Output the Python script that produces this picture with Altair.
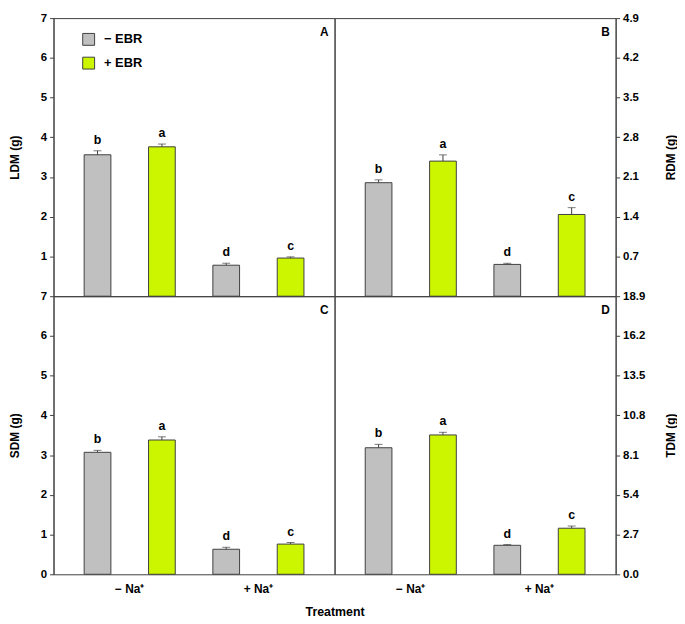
import altair as alt
import pandas as pd

# ---- data ----
treatments = ["− Na⁺", "+ Na⁺"]
ebr_levels = ["− EBR", "+ EBR"]
# order: (−Na,−EBR), (−Na,+EBR), (+Na,−EBR), (+Na,+EBR)
ldm = [3.56, 3.76, 0.78, 0.96]
ldm_err = [0.10, 0.07, 0.05, 0.03]
ldm_sig = ["b", "a", "d", "c"]

rdm = [2.00, 2.38, 0.56, 1.44]
rdm_err = [0.05, 0.11, 0.02, 0.12]
rdm_sig = ["b", "a", "d", "c"]

sdm = [3.07, 3.38, 0.63, 0.76]
sdm_err = [0.05, 0.08, 0.05, 0.04]
sdm_sig = ["b", "a", "d", "c"]

tdm = [8.60, 9.47, 1.97, 3.13]
tdm_err = [0.23, 0.18, 0.05, 0.15]
tdm_sig = ["b", "a", "d", "c"]

ldm_ticks = [1, 2, 3, 4, 5, 6, 7]
sdm_ticks = [0, 1, 2, 3, 4, 5, 6, 7]
rdm_ticks = [0.7, 1.4, 2.1, 2.8, 3.5, 4.2, 4.9]
tdm_ticks = [0.0, 2.7, 5.4, 8.1, 10.8, 13.5, 16.2, 18.9]

GRAY = "#c0c0c0"
GREEN = "#ccf500"
LINE = "#404040"
FONT = "Liberation Sans"
W = 284
H = 281


def make_df(vals, errs, sig):
    rows = []
    i = 0
    for t in treatments:
        for e in ebr_levels:
            rows.append(dict(Treatment=t, EBR=e, value=vals[i],
                             top=vals[i] + errs[i], sig=sig[i]))
            i += 1
    return pd.DataFrame(rows)


def panel(vals, errs, sig, letter, ytitle, domain, ticks, fmt,
          left, bottom, legend):
    df = make_df(vals, errs, sig)
    base = alt.Chart(df)

    if bottom:
        xaxis = alt.Axis(labelAngle=0, ticks=False, tickSize=0, domain=False,
                         labelPadding=9, labelFontSize=12,
                         title="Treatment" if left else None,
                         titleX=W, titleY=38, titleAlign="center",
                         titleBaseline="middle", titleFontSize=12.5)
    else:
        xaxis = None

    x = alt.X("Treatment:N", sort=treatments,
              scale=alt.Scale(paddingInner=0, paddingOuter=0.092),
              axis=xaxis)
    xo = alt.XOffset("EBR:N", sort=ebr_levels,
                     scale=alt.Scale(paddingInner=0.585, paddingOuter=0.292))

    yaxis = alt.Axis(orient="left" if left else "right", values=ticks,
                     format=fmt, tickSize=4, labelPadding=3,
                     title=ytitle, titleAngle=270,
                     titleX=-39 if left else 55,
                     titleBaseline="middle", titleAlign="center")
    y = alt.Y("value:Q", scale=alt.Scale(domain=domain, nice=False),
              axis=yaxis)

    if legend:
        leg = alt.Legend(orient="none", legendX=29, legendY=15, title=None,
                         symbolType="square", symbolSize=144,
                         symbolStrokeColor=LINE, symbolStrokeWidth=1,
                         symbolOpacity=1,
                         labelFont=FONT, labelFontWeight="bold",
                         labelFontSize=13, labelOffset=9, rowPadding=7,
                         padding=0)
    else:
        leg = None

    color = alt.Color("EBR:N",
                      scale=alt.Scale(domain=ebr_levels, range=[GRAY, GREEN]),
                      legend=leg)

    bars = base.mark_bar(stroke=LINE, strokeWidth=1, opacity=1).encode(
        x=x, xOffset=xo, y=y, color=color)
    rule = base.mark_rule(color=LINE, strokeWidth=1).encode(
        x=x, xOffset=xo, y="value:Q", y2="top:Q")
    cap = base.mark_tick(color=LINE, size=8, thickness=1).encode(
        x=x, xOffset=xo, y="top:Q")
    txt = base.mark_text(baseline="bottom", dy=-4, font=FONT,
                         fontWeight="bold", fontSize=12.5, color="black").encode(
        x=x, xOffset=xo, y="top:Q", text="sig:N")
    lab = alt.Chart(pd.DataFrame({"t": [letter]})).mark_text(
        align="right", baseline="middle", font=FONT, fontWeight="bold",
        fontSize=12, color="black").encode(
        x=alt.value(W - 6), y=alt.value(14), text="t:N")

    return alt.layer(bars, rule, cap, txt, lab).properties(width=W, height=H)


pA = panel(ldm, ldm_err, ldm_sig, "A", "LDM (g)", [0, 7], ldm_ticks, "d",
           True, False, True)
pB = panel(rdm, rdm_err, rdm_sig, "B", "RDM (g)", [0, 4.9], rdm_ticks, ".1f",
           False, False, False)
pC = panel(sdm, sdm_err, sdm_sig, "C", "SDM (g)", [0, 7], sdm_ticks, "d",
           True, True, False)
pD = panel(tdm, tdm_err, tdm_sig, "D", "TDM (g)", [0, 18.9], tdm_ticks, ".1f",
           False, True, False)

chart = alt.concat(pA, pB, pC, pD, columns=2, spacing=0, bounds="flush").resolve_scale(
    color="independent").resolve_legend(color="independent").properties(
    padding=0).configure_view(stroke=LINE, strokeWidth=1).configure_axis(
    labelFont=FONT, labelFontWeight="bold", labelFontSize=11.5,
    labelColor="black", titleFont=FONT, titleFontWeight="bold",
    titleFontSize=12, titleColor="black", domainColor=LINE, tickColor=LINE,
    grid=False)

chart.save("out.html", embed_options={"renderer": "svg", "actions": False})
